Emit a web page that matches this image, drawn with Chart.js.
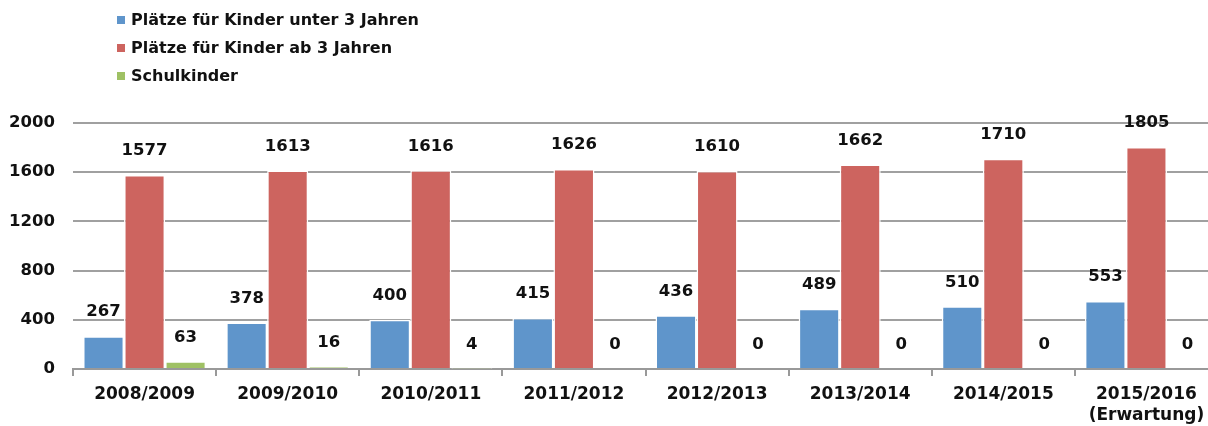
<!DOCTYPE html>
<html>
<head>
<meta charset="utf-8">
<script src="https://cdn.jsdelivr.net/npm/chart.js@4/dist/chart.umd.min.js"></script>
<style>
  html, body { margin: 0; padding: 0; background: #fff; overflow: hidden; }
  #wrap { position: relative; width: 1218px; height: 426px; }
  #legend { position: absolute; left: 117px; top: 6px; font: bold 16px "DejaVu Sans", sans-serif; color: #111; }
  #legend div { height: 28px; line-height: 28px; white-space: nowrap; }
  #legend span { display: inline-block; width: 8px; height: 8px; margin-right: 6px; vertical-align: 1px; }
</style>
</head>
<body>
<div id="wrap">
  <canvas id="chart" width="1218" height="426"></canvas>
  <div id="legend"></div>
</div>
<script>
'use strict'

const years = ['2008/2009', '2009/2010', '2010/2011', '2011/2012', '2012/2013', '2013/2014', '2014/2015', ['2015/2016', '(Erwartung)']];
const unter3 = [267, 378, 400, 415, 436, 489, 510, 553];
const ab3 = [1577, 1613, 1616, 1626, 1610, 1662, 1710, 1805];
const schulkinder = [63, 16, 4, 0, 0, 0, 0, 0];
const yTicks = [0, 400, 800, 1200, 1600, 2000];

const seriesNames = ['Plätze für Kinder unter 3 Jahren', 'Plätze für Kinder ab 3 Jahren', 'Schulkinder'];
const colors = ['#5f95cb', '#cd645f', '#9fc164'];
const fontFam = '"DejaVu Sans", sans-serif';

const valueLabels = {
    id: 'valueLabels',
    afterDatasetsDraw(chart) {
        const ctx = chart.ctx;
        ctx.save();
        ctx.font = 'bold 16.5px ' + fontFam;
        ctx.fillStyle = '#111';
        ctx.textAlign = 'center';
        ctx.textBaseline = 'middle';
        chart.data.datasets.forEach((ds, i) => {
            chart.getDatasetMeta(i).data.forEach((bar, j) => {
                ctx.fillText(String(ds.data[j]), bar.x, bar.y - 24);
            });
        });
        ctx.restore();
    }
};

const ctx = document.getElementById('chart').getContext('2d');
const myChart = new Chart(ctx, {
    type: 'bar',
    data: {
        labels: years,
        datasets: [unter3, ab3, schulkinder].map((d, i) => ({
            label: seriesNames[i],
            data: d,
            backgroundColor: colors[i],
            borderColor: '#ffffff',
            borderWidth: 1.5,
            borderSkipped: 'bottom',
            barPercentage: 1,
            categoryPercentage: 0.86
        }))
    },
    options: {
        responsive: false,
        animation: false,
        layout: { padding: { top: 123, left: 0, right: 0, bottom: 0 } },
        plugins: {
            legend: { display: false },
            tooltip: { enabled: false }
        },
        scales: {
            x: {
                grid: { display: true, drawOnChartArea: false, drawTicks: true, tickLength: 7, color: '#999', lineWidth: 2, offset: true },
                border: { display: true, color: '#999', width: 2 },
                ticks: { color: '#111', font: { family: fontFam, size: 17, weight: 'bold', lineHeight: 1.25 }, padding: 8, maxRotation: 0 },
                afterFit(scale) { scale.height = 57; }
            },
            y: {
                min: 0,
                max: 2000,
                afterBuildTicks(scale) { scale.ticks = yTicks.map(v => ({ value: v })); },
                grid: { color: '#a0a0a0', lineWidth: 2, drawTicks: false },
                border: { display: false },
                ticks: { color: '#111', font: { family: fontFam, size: 16.5, weight: 'bold' }, padding: 18, callback: v => String(v) },
                afterFit(scale) { scale.width = 73; }
            }
        }
    },
    plugins: [valueLabels]
});

const legend = document.getElementById('legend');
seriesNames.forEach((name, i) => {
    const row = document.createElement('div');
    row.innerHTML = '<span style="background:' + colors[i] + '"></span>' + name;
    legend.appendChild(row);
});
</script>
</body>
</html>
